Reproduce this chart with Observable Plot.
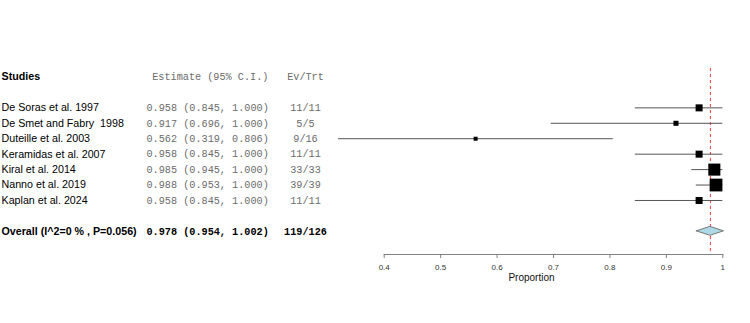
<!DOCTYPE html>
<html>
<head>
<meta charset="utf-8">
<script src="https://cdn.jsdelivr.net/npm/d3@7"></script>
<script src="https://cdn.jsdelivr.net/npm/@observablehq/plot@0.6"></script>
<style>
  html, body { margin: 0; padding: 0; background: #fff; }
  svg { display: block; overflow: visible; }
</style>
</head>
<body>
<div id="chart"></div>
<script>
// ---- data ----
const studies = [
  "De Soras et al. 1997",
  "De Smet and Fabry  1998",
  "Duteille et al. 2003",
  "Keramidas et al. 2007",
  "Kiral et al. 2014",
  "Nanno et al. 2019",
  "Kaplan et al. 2024"
];
const estimates = [0.958, 0.917, 0.562, 0.958, 0.985, 0.988, 0.958];
const lowers    = [0.845, 0.696, 0.319, 0.845, 0.945, 0.953, 0.845];
const uppers    = [1.000, 1.000, 0.806, 1.000, 1.000, 1.000, 1.000];
const events    = [11, 5, 9, 11, 33, 39, 11];
const totals    = [11, 5, 16, 11, 33, 39, 11];
const weights   = [9.9, 5.1, 3.2, 9.9, 29.2, 32.7, 9.9];

const overallEst = 0.978;
const overallLo = 0.954;
const overallHi = 1.002;
const overallI2 = 0;
const overallP = 0.056;

const headerStudies = "Studies";
const headerEstimate = "Estimate (95% C.I.)";
const headerEv = "Ev/Trt";
const xTicks = [0.4, 0.5, 0.6, 0.7, 0.8, 0.9, 1];
const xLabel = "Proportion";

(function () {
// ---- build tables ----
const fmt = v => v.toFixed(3);
const rows = studies.map((s, i) => ({
  row: i, study: s, est: estimates[i], lo: lowers[i], hi: uppers[i], w: weights[i],
  estText: `${fmt(estimates[i])} (${fmt(lowers[i])}, ${fmt(uppers[i])})`,
  ev: `${events[i]}/${totals[i]}`
}));
const overallRow = studies.length + 1;
const headerRow = -2;
const sumEv = d3.sum(events), sumTot = d3.sum(totals);
const overall = [{
  row: overallRow,
  study: `Overall (I^2=${overallI2} % , P=${overallP})`,
  estText: `${fmt(overallEst)} (${fmt(overallLo)}, ${fmt(overallHi)})`,
  ev: `${sumEv}/${sumTot}`
}];
const header = [{row: headerRow}];
const dh = 0.29;
const diamond = [
  {x: overallLo, y1: overallRow, y2: overallRow},
  {x: overallEst, y1: overallRow - dh, y2: overallRow + dh},
  {x: overallHi, y1: overallRow, y2: overallRow}
];

const W = 750, H = 323;
const pL = 383.7, pR = 722.3, pT = 68, pB = 254;
const sans = "Liberation Sans, Arial, sans-serif";
const mono = "Liberation Mono, Courier New, monospace";
const colStudy = 1 - pL, colEst = 146 - pL, colEstHead = 151.7 - pL, colEv = 305 - pL;
const grey = "#6b6b6b";

const chart = Plot.plot({
  width: W,
  height: H,
  marginLeft: pL,
  marginRight: W - pR,
  marginTop: pT,
  marginBottom: H - pB,
  style: {background: "#fff", fontFamily: sans},
  x: {domain: [0.4, 1], range: [pL, pR]},
  y: {domain: [-2.55, 9.5], range: [pT, pB], axis: null},
  r: {type: "sqrt", domain: [0, d3.max(weights)], range: [0, 7.2]},
  marks: [
    Plot.frame({anchor: "bottom", stroke: "#808080"}),
    Plot.axisX({ticks: xTicks, tickFormat: d => String(d), tickSize: 4, tickPadding: 6,
      fontSize: 8, stroke: "#808080", color: "#333", label: null}),
    Plot.text([xLabel], {frameAnchor: "bottom-left", dx: 531 - pL, dy: 26, text: d => d,
      fontSize: 10, fill: "#111", textAnchor: "middle"}),
    Plot.ruleX([overallEst], {stroke: "#ff3333", strokeDasharray: "3,3", strokeWidth: 1}),
    Plot.ruleY(rows, {y: "row", x1: "lo", x2: "hi", stroke: "#555", strokeWidth: 1}),
    Plot.areaY(diamond, {x: "x", y1: "y1", y2: "y2", fill: "#add8e6", stroke: "#777", strokeWidth: 1, curve: "linear"}),
    Plot.dot(rows, {x: "est", y: "row", r: "w", symbol: "square", fill: "#000", stroke: null}),
    // text columns
    Plot.text(header, {y: "row", text: () => headerStudies, frameAnchor: "left", dx: colStudy,
      textAnchor: "start", fontSize: 10.7, fontWeight: "bold", fill: "#000"}),
    Plot.text(header, {y: "row", text: () => headerEstimate, frameAnchor: "left", dx: colEstHead,
      textAnchor: "start", fontSize: 10.2, fontFamily: mono, fill: grey}),
    Plot.text(header, {y: "row", text: () => headerEv, frameAnchor: "left", dx: colEv,
      textAnchor: "middle", fontSize: 10.2, fontFamily: mono, fill: grey}),
    Plot.text(rows, {y: "row", text: "study", frameAnchor: "left", dx: colStudy,
      textAnchor: "start", fontSize: 10.7, fill: "#000"}),
    Plot.text(rows, {y: "row", text: "estText", frameAnchor: "left", dx: colEst,
      textAnchor: "start", fontSize: 10.2, fontFamily: mono, fill: grey}),
    Plot.text(rows, {y: "row", text: "ev", frameAnchor: "left", dx: colEv,
      textAnchor: "middle", fontSize: 10.2, fontFamily: mono, fill: grey}),
    Plot.text(overall, {y: "row", text: "study", frameAnchor: "left", dx: colStudy,
      textAnchor: "start", fontSize: 10.7, fontWeight: "bold", fill: "#000"}),
    Plot.text(overall, {y: "row", text: "estText", frameAnchor: "left", dx: colEst,
      textAnchor: "start", fontSize: 10.2, fontFamily: mono, fontWeight: "bold", fill: "#000"}),
    Plot.text(overall, {y: "row", text: "ev", frameAnchor: "left", dx: colEv,
      textAnchor: "middle", fontSize: 10.2, fontFamily: mono, fontWeight: "bold", fill: "#000"})
  ]
});
document.getElementById("chart").appendChild(chart);
})();
</script>
</body>
</html>
